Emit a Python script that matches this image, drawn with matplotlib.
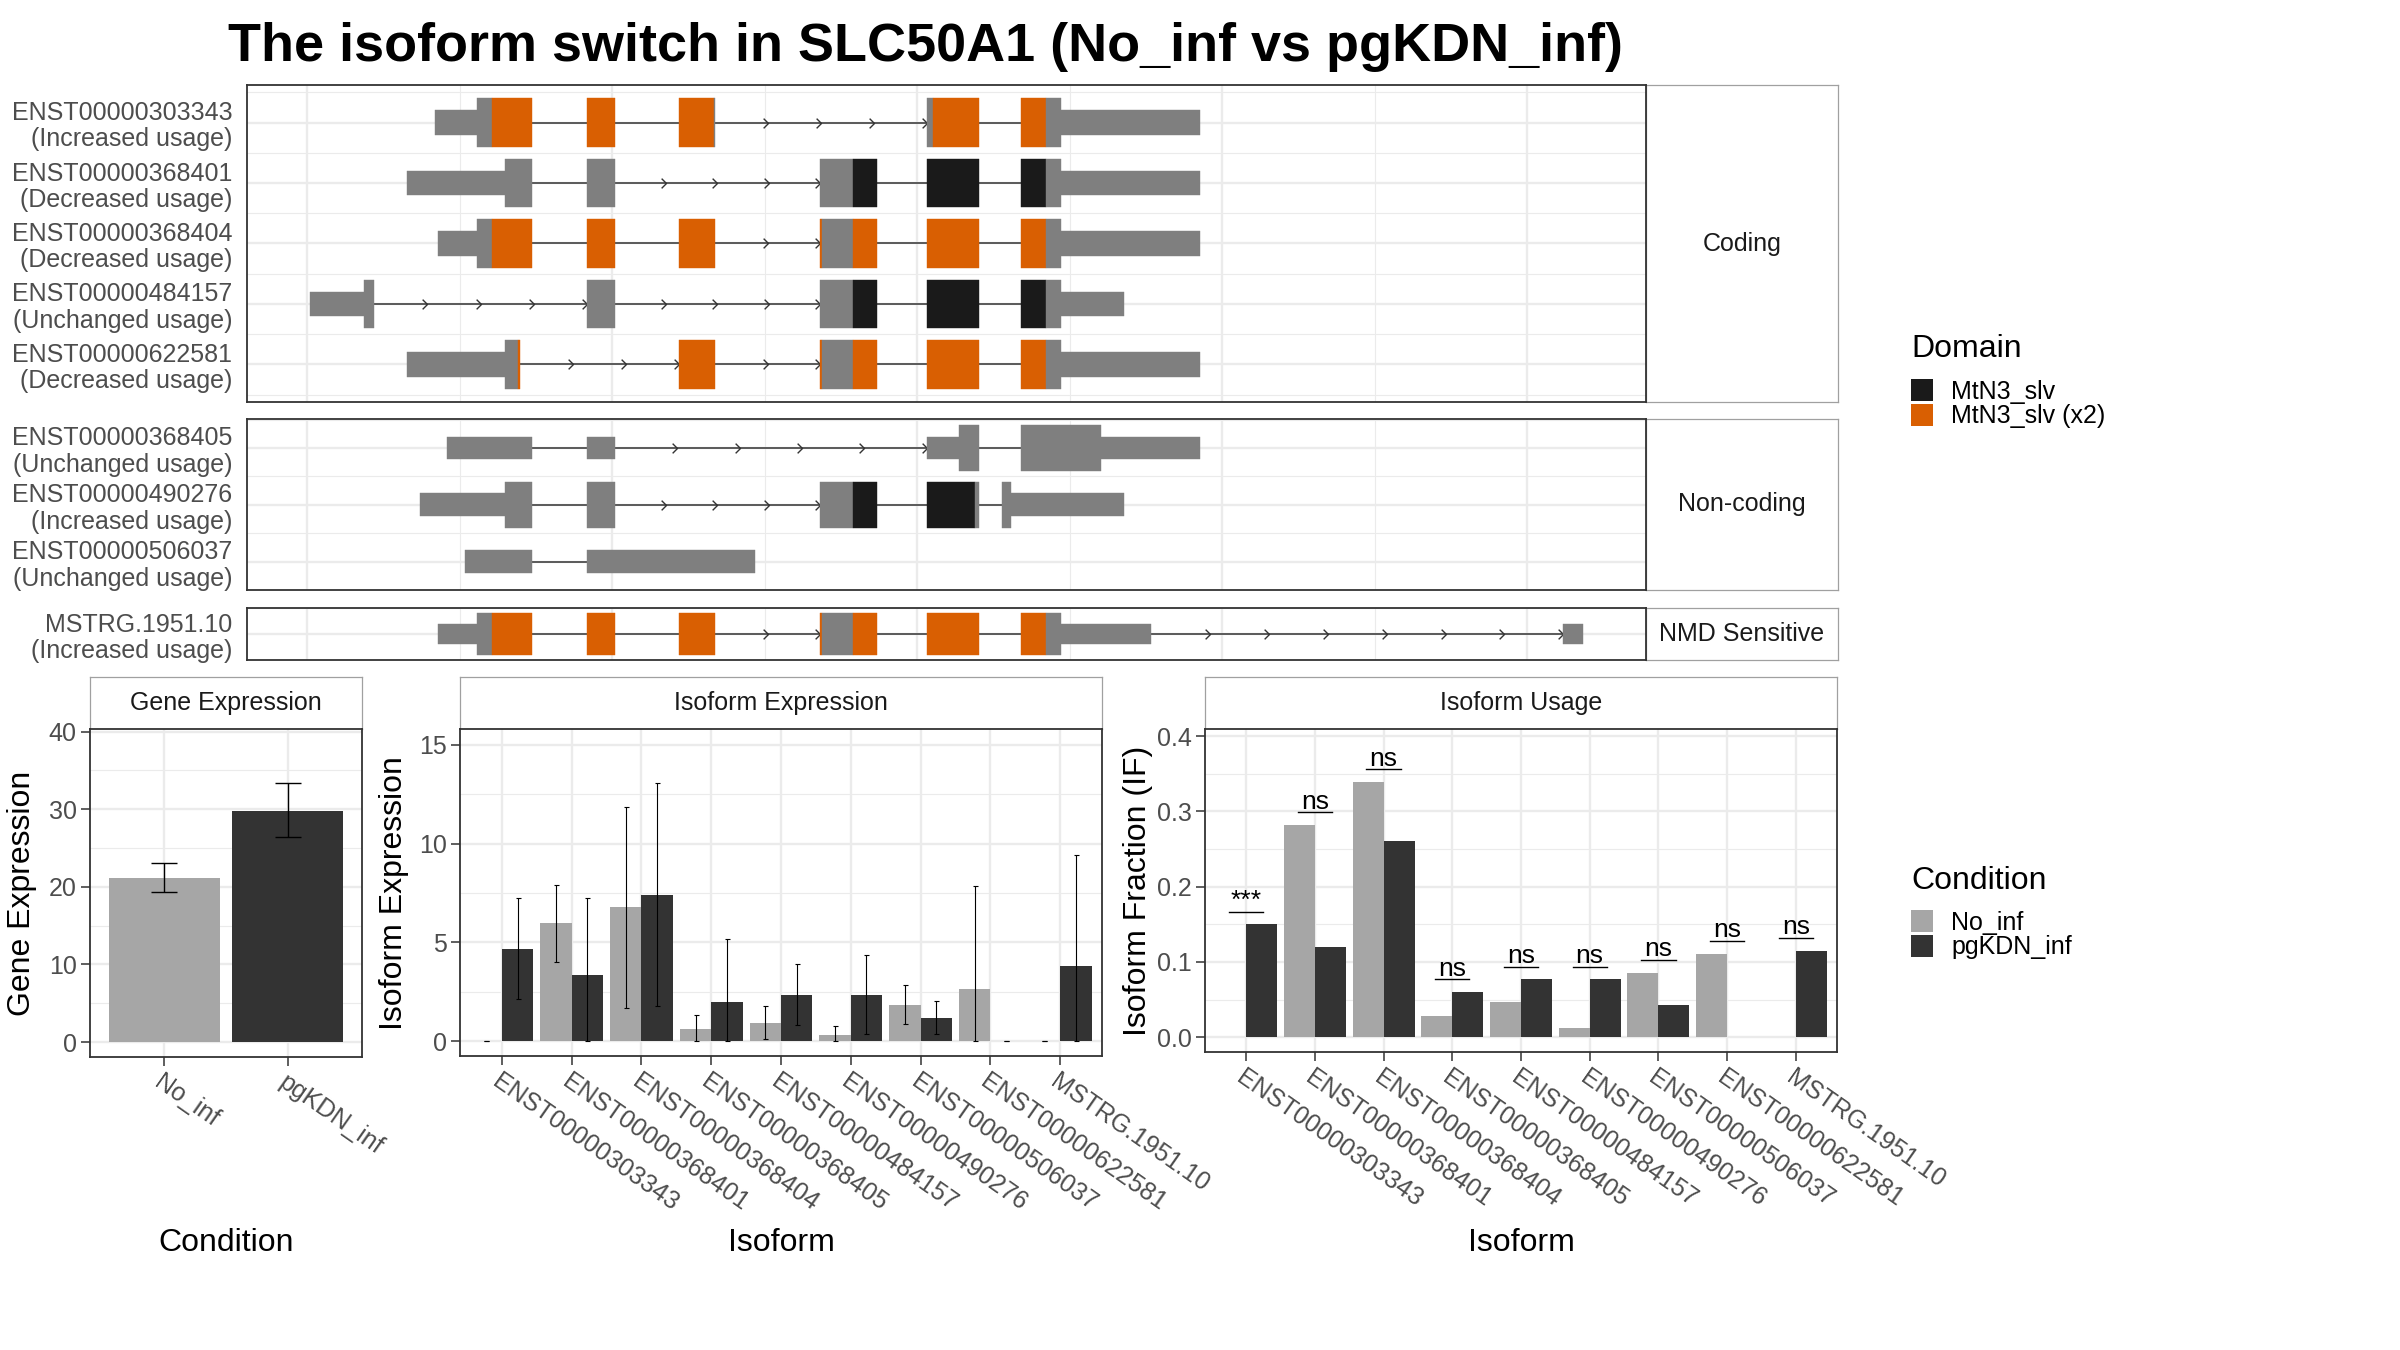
import matplotlib
matplotlib.use("Agg")
import matplotlib.pyplot as plt
from matplotlib.path import Path
from matplotlib.patches import Patch
import numpy as np

plt.rcParams['font.family'] = ['Liberation Sans', 'DejaVu Sans']

# ------------------------------------------------------------------ data
title = "The isoform switch in SLC50A1 (No_inf vs pgKDN_inf)"

coding_ids = ["ENST00000303343", "ENST00000368401", "ENST00000368404",
              "ENST00000484157", "ENST00000622581"]
coding_usage = ["Increased usage", "Decreased usage", "Decreased usage",
                "Unchanged usage", "Decreased usage"]
noncoding_ids = ["ENST00000368405", "ENST00000490276", "ENST00000506037"]
noncoding_usage = ["Unchanged usage", "Increased usage", "Unchanged usage"]
nmd_ids = ["MSTRG.1951.10"]
nmd_usage = ["Increased usage"]
class_names = ["Coding", "Non-coding", "NMD Sensitive"]

# exon blocks (relative genomic position start, end, feature)
tx_303343 = [(421, 557, "UTR"), (557, 607, "CDS"), (607, 737, "MtN3_slv (x2)"),
             (918, 1009, "MtN3_slv (x2)"),
             (1221, 1333, "MtN3_slv (x2)"), (1333, 1339, "CDS"),
             (2032, 2053, "CDS"), (2053, 2202, "MtN3_slv (x2)"),
             (2340, 2422, "MtN3_slv (x2)"), (2422, 2471, "CDS"), (2471, 2929, "UTR")]
tx_368401 = [(329, 649, "UTR"), (649, 737, "CDS"),
             (918, 1009, "CDS"),
             (1681, 1789, "CDS"), (1789, 1870, "MtN3_slv"),
             (2032, 2202, "MtN3_slv"),
             (2340, 2422, "MtN3_slv"), (2422, 2471, "CDS"), (2471, 2929, "UTR")]
tx_368404 = [(429, 557, "UTR"), (557, 607, "CDS"), (607, 737, "MtN3_slv (x2)"),
             (918, 1009, "MtN3_slv (x2)"),
             (1221, 1339, "MtN3_slv (x2)"),
             (1681, 1689, "MtN3_slv (x2)"), (1689, 1789, "CDS"), (1789, 1870, "MtN3_slv (x2)"),
             (2032, 2202, "MtN3_slv (x2)"),
             (2340, 2422, "MtN3_slv (x2)"), (2422, 2471, "CDS"), (2471, 2929, "UTR")]
tx_484157 = [(8, 188, "UTR"), (188, 220, "CDS"),
             (918, 1009, "CDS"),
             (1681, 1789, "CDS"), (1789, 1870, "MtN3_slv"),
             (2032, 2202, "MtN3_slv"),
             (2340, 2422, "MtN3_slv"), (2422, 2471, "CDS"), (2471, 2680, "UTR")]
tx_622581 = [(329, 649, "UTR"), (649, 690, "CDS"), (690, 698, "MtN3_slv (x2)"),
             (1221, 1339, "MtN3_slv (x2)"),
             (1681, 1689, "MtN3_slv (x2)"), (1689, 1789, "CDS"), (1789, 1870, "MtN3_slv (x2)"),
             (2032, 2202, "MtN3_slv (x2)"),
             (2340, 2422, "MtN3_slv (x2)"), (2422, 2471, "CDS"), (2471, 2929, "UTR")]
tx_368405 = [(460, 737, "UTR"),
             (918, 1009, "UTR"),
             (2032, 2139, "UTR"), (2139, 2202, "CDS"),
             (2340, 2602, "CDS"), (2602, 2929, "UTR")]
tx_490276 = [(369, 649, "UTR"), (649, 737, "CDS"),
             (918, 1009, "CDS"),
             (1681, 1789, "CDS"), (1789, 1870, "MtN3_slv"),
             (2032, 2189, "MtN3_slv"), (2189, 2202, "CDS"),
             (2280, 2309, "CDS"), (2309, 2680, "UTR")]
tx_506037 = [(518, 737, "UTR"),
             (918, 1470, "UTR")]
tx_mstrg = [(429, 557, "UTR"), (557, 607, "CDS"), (607, 737, "MtN3_slv (x2)"),
            (918, 1009, "MtN3_slv (x2)"),
            (1221, 1339, "MtN3_slv (x2)"),
            (1681, 1689, "MtN3_slv (x2)"), (1689, 1789, "CDS"), (1789, 1870, "MtN3_slv (x2)"),
            (2032, 2202, "MtN3_slv (x2)"),
            (2340, 2422, "MtN3_slv (x2)"), (2422, 2471, "CDS"), (2471, 2767, "UTR"),
            (4119, 4182, "UTR")]

tx_blocks = {
    "ENST00000303343": tx_303343, "ENST00000368401": tx_368401,
    "ENST00000368404": tx_368404, "ENST00000484157": tx_484157,
    "ENST00000622581": tx_622581, "ENST00000368405": tx_368405,
    "ENST00000490276": tx_490276, "ENST00000506037": tx_506037,
    "MSTRG.1951.10": tx_mstrg,
}

domain_names = ["MtN3_slv", "MtN3_slv (x2)"]

conditions = ["No_inf", "pgKDN_inf"]
gene_mean = [21.15, 29.8]
gene_lo = [19.3, 26.4]
gene_hi = [23.1, 33.4]

isoforms = ["ENST00000303343", "ENST00000368401", "ENST00000368404",
            "ENST00000368405", "ENST00000484157", "ENST00000490276",
            "ENST00000506037", "ENST00000622581", "MSTRG.1951.10"]
iso_no_mean = [0.0, 5.98, 6.77, 0.63, 0.93, 0.29, 1.85, 2.66, 0.0]
iso_no_lo = [0.0, 4.01, 1.69, 0.0, 0.12, 0.0, 0.88, 0.0, 0.0]
iso_no_hi = [0.0, 7.90, 11.88, 1.32, 1.79, 0.76, 2.84, 7.85, 0.0]
iso_pg_mean = [4.69, 3.37, 7.38, 2.00, 2.35, 2.35, 1.19, 0.0, 3.78]
iso_pg_lo = [2.15, 0.0, 1.76, 0.0, 0.80, 0.34, 0.34, 0.0, 0.0]
iso_pg_hi = [7.23, 7.23, 13.09, 5.18, 3.91, 4.35, 2.03, 0.0, 9.45]

if_no = [0.0, 0.282, 0.339, 0.028, 0.0465, 0.012, 0.086, 0.111, 0.0]
if_pg = [0.150, 0.120, 0.261, 0.060, 0.077, 0.077, 0.0425, 0.0, 0.115]
if_sig = ["***", "ns", "ns", "ns", "ns", "ns", "ns", "ns", "ns"]

# ------------------------------------------------------------------ style
W, H = 2400, 1350
fig = plt.figure(figsize=(W / 100, H / 100), dpi=100)

feat_color = {"UTR": "#7F7F7F", "CDS": "#7F7F7F",
              "MtN3_slv": "#1A1A1A", "MtN3_slv (x2)": "#D95F02"}
cond_color = ["#A6A6A6", "#333333"]
GRID = "#EBEBEB"
BORDER = "#333333"
TICKTXT = "#4D4D4D"
TICK_FS = 18
chevron = Path([(-1.0, 1.0), (0.0, 0.0), (-1.0, -1.0)],
               [Path.MOVETO, Path.LINETO, Path.LINETO])


def fax(l, t, r, b, **kw):
    return fig.add_axes([l / W, 1 - b / H, (r - l) / W, (b - t) / H], **kw)


def style_panel(ax):
    for s in ax.spines.values():
        s.set_color(BORDER)
        s.set_linewidth(1.3)
    ax.set_axisbelow(True)
    ax.grid(which="major", color=GRID, lw=1.7)
    ax.grid(which="minor", color=GRID, lw=0.8)


def strip(l, t, r, b, text, zorder=0):
    sa = fax(l, t, r, b, zorder=zorder)
    sa.set_xticks([])
    sa.set_yticks([])
    for s in sa.spines.values():
        s.set_color("#A0A0A0")
        s.set_linewidth(0.9)
    sa.text(0.5, 0.5, text, ha="center", va="center", fontsize=18,
            color="#1A1A1A", transform=sa.transAxes)
    return sa


def draw_transcripts(ax, ids, usage, ylim):
    for i, tid in enumerate(ids):
        y = i + 1
        blocks = tx_blocks[tid]
        for (s0, e0, _), (s1, e1, _) in zip(blocks[:-1], blocks[1:]):
            if s1 > e0:
                ax.plot([e0, s1], [y, y], color="#333333", lw=1.1, zorder=2,
                        solid_capstyle="butt")
                L = s1 - e0
                n = int(round(L / 190.0)) if L >= 300 else 0
                if n:
                    xs = e0 + L * np.arange(1, n + 1) / n
                    ax.plot(xs, [y] * n, ls="none", marker=chevron, ms=7,
                            mew=1.0, mfc="none", mec="#333333", zorder=2)
        for s, e, f in blocks:
            h = 0.4 if f == "UTR" else 0.8
            ax.barh(y, e - s, left=s, height=h, color=feat_color[f],
                    edgecolor=feat_color[f], linewidth=0.3, zorder=3)
    ax.set_xlim(-197, 4390)
    ax.set_ylim(*ylim)
    ax.set_xticks(np.arange(0, 4001, 1000))
    ax.set_xticks(np.arange(500, 4001, 1000), minor=True)
    ax.set_yticks(np.arange(1, len(ids) + 1))
    ax.set_yticks(np.arange(0.5, len(ids) + 1, 1.0), minor=True)
    ax.set_yticklabels([f"{t}\n({u})" for t, u in zip(ids, usage)],
                       fontsize=TICK_FS, color=TICKTXT, linespacing=1.13)
    ax.tick_params(axis="both", which="both", length=0)
    ax.tick_params(axis="y", pad=10.5)
    ax.tick_params(axis="x", labelbottom=False)
    style_panel(ax)


# ---- transcript panels
panels = [
    (coding_ids, coding_usage, (85, 402), (5.62, 0.38), class_names[0]),
    (noncoding_ids, noncoding_usage, (419, 590), (3.33, 0.49), class_names[1]),
    (nmd_ids, nmd_usage, (608, 660), (1.43, 0.57), class_names[2]),
]
for ids, usage, (t, b), ylim, cname in panels:
    strip(1646, t, 1838, b, cname, zorder=0)
    ax = fax(247, t, 1646, b, zorder=1)
    draw_transcripts(ax, ids, usage, ylim)

# ---- title
fig.text(228 / W, 1 - 61 / H, title, fontsize=38.9, fontweight="bold",
         ha="left", va="baseline")


def bottom_axis_style(ax):
    style_panel(ax)
    ax.tick_params(axis="both", which="major", length=6.5, width=1.1,
                   color=BORDER, labelsize=TICK_FS, labelcolor=TICKTXT, pad=3)
    ax.tick_params(axis="both", which="minor", length=0)
    ax.tick_params(axis="x", which="minor", bottom=False)


def rot_labels(ax, labels):
    ax.set_xticklabels(labels, rotation=-35, ha="left", va="top",
                       rotation_mode="anchor")


XLAB_Y = 1243

# ---- gene expression
ax = fax(90, 729, 362, 1057, zorder=1)
strip(90, 677, 362, 729, "Gene Expression")
xg = np.arange(1, len(conditions) + 1)
ax.bar(xg, gene_mean, width=0.9, color=cond_color, zorder=2)
ax.errorbar(xg, gene_mean,
            yerr=[np.subtract(gene_mean, gene_lo), np.subtract(gene_hi, gene_mean)],
            fmt="none", ecolor="black", elinewidth=1.0, capsize=9.4, capthick=1.0,
            zorder=3)
Lg = max(gene_hi) * 1.15
ax.set_ylim(-0.05 * Lg, 1.05 * Lg)
ax.set_xlim(0.4, len(conditions) + 0.6)
ax.set_yticks([0, 10, 20, 30, 40])
ax.set_yticks([5, 15, 25, 35], minor=True)
ax.set_xticks(xg)
rot_labels(ax, conditions)
bottom_axis_style(ax)
fig.text(22 / W, 1 - 893 / H, "Gene Expression", rotation=90, ha="center",
         va="center", fontsize=23)
fig.text(226 / W, 1 - XLAB_Y / H, "Condition", ha="center", va="center", fontsize=23)

# ---- isoform expression
ax = fax(460, 729, 1102, 1056, zorder=1)
strip(460, 677, 1102, 729, "Isoform Expression")
xi = np.arange(1, len(isoforms) + 1)
ax.bar(xi - 0.225, iso_no_mean, width=0.45, color=cond_color[0], zorder=2)
ax.bar(xi + 0.225, iso_pg_mean, width=0.45, color=cond_color[1], zorder=2)
ax.errorbar(xi - 0.225, iso_no_mean,
            yerr=[np.subtract(iso_no_mean, iso_no_lo), np.subtract(iso_no_hi, iso_no_mean)],
            fmt="none", ecolor="black", elinewidth=0.8, capsize=1.8, capthick=0.8, zorder=3)
ax.errorbar(xi + 0.225, iso_pg_mean,
            yerr=[np.subtract(iso_pg_mean, iso_pg_lo), np.subtract(iso_pg_hi, iso_pg_mean)],
            fmt="none", ecolor="black", elinewidth=0.8, capsize=1.8, capthick=0.8, zorder=3)
Li = max(max(iso_no_hi), max(iso_pg_hi)) * 1.15
ax.set_ylim(-0.05 * Li, 1.05 * Li)
ax.set_xlim(0.4, len(isoforms) + 0.6)
ax.set_yticks([0, 5, 10, 15])
ax.set_yticks([2.5, 7.5, 12.5], minor=True)
ax.set_xticks(xi)
rot_labels(ax, isoforms)
bottom_axis_style(ax)
fig.text(394 / W, 1 - 893 / H, "Isoform Expression", rotation=90, ha="center",
         va="center", fontsize=23)
fig.text(781 / W, 1 - XLAB_Y / H, "Isoform", ha="center", va="center", fontsize=23)

# ---- isoform usage
ax = fax(1205, 729, 1837, 1052, zorder=1)
strip(1205, 677, 1837, 729, "Isoform Usage")
ax.bar(xi - 0.225, if_no, width=0.45, color=cond_color[0], zorder=2)
ax.bar(xi + 0.225, if_pg, width=0.45, color=cond_color[1], zorder=2)
for x, a, b, s in zip(xi, if_no, if_pg, if_sig):
    yl = max(a, b) + 0.017
    ax.plot([x - 0.25, x + 0.25], [yl, yl], color="black", lw=1.0, zorder=3)
    ax.annotate(s, (x, yl), xytext=(0, 2.5), textcoords="offset points",
                ha="center", va="baseline", fontsize=19, zorder=3)
Lu = max(max(if_no), max(if_pg)) * 1.15
ax.set_ylim(-0.05 * Lu, 1.05 * Lu)
ax.set_xlim(0.4, len(isoforms) + 0.6)
ax.set_yticks([0.0, 0.1, 0.2, 0.3, 0.4])
ax.set_yticklabels(["0.0", "0.1", "0.2", "0.3", "0.4"])
ax.set_yticks([0.05, 0.15, 0.25, 0.35], minor=True)
ax.set_xticks(xi)
rot_labels(ax, isoforms)
bottom_axis_style(ax)
fig.text(1138 / W, 1 - 891 / H, "Isoform Fraction (IF)", rotation=90, ha="center",
         va="center", fontsize=23)
fig.text(1521 / W, 1 - XLAB_Y / H, "Isoform", ha="center", va="center", fontsize=23)

# ---- legends
LEG_KW = dict(loc="upper left", frameon=False, fontsize=18, handlelength=0.88,
              handleheight=0.98, handletextpad=0.72, labelspacing=0.0,
              borderpad=0, borderaxespad=0)
fig.text(1911 / W, 1 - 357 / H, "Domain", fontsize=23, ha="left", va="baseline")
dom_handles = [Patch(facecolor=feat_color[d], edgecolor="none") for d in domain_names]
fig.legend(dom_handles, domain_names, bbox_to_anchor=(1911 / W, 1 - 379 / H), **LEG_KW)

fig.text(1911 / W, 1 - 889 / H, "Condition", fontsize=23, ha="left", va="baseline")
cond_handles = [Patch(facecolor=c, edgecolor="none") for c in cond_color]
fig.legend(cond_handles, conditions, bbox_to_anchor=(1911 / W, 1 - 910 / H), **LEG_KW)

fig.savefig("out.png", dpi=100, facecolor="white")
